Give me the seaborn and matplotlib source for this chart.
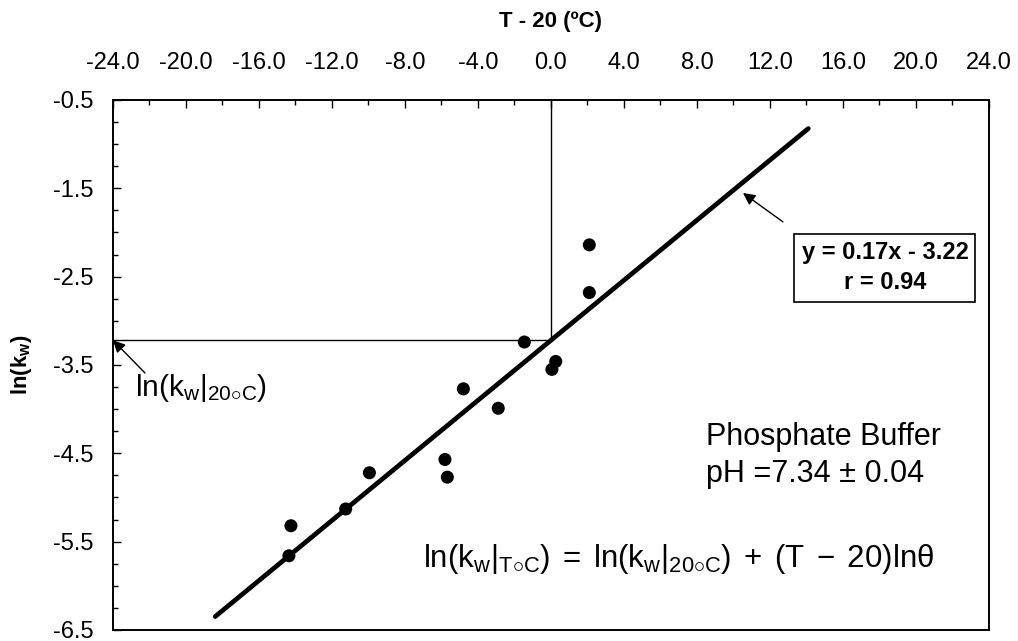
import numpy as np
import pandas as pd
import matplotlib
matplotlib.use("Agg")
import matplotlib.pyplot as plt
from matplotlib.ticker import FixedLocator, MultipleLocator, FormatStrFormatter
import seaborn as sns

# Temperature offset (T - 20, in degC) and ln(k_w) measured in phosphate buffer
t_offset = [-14.36, -14.25, -11.25, -9.95, -5.81, -5.68, -4.80, -2.89, -1.46, 0.26, 0.05, 2.10, 2.10]
ln_kw = [-5.66, -5.32, -5.13, -4.72, -4.57, -4.77, -3.77, -3.99, -3.24, -3.46, -3.55, -2.14, -2.68]

# Linear fit reported on the chart
slope = 0.17
intercept = -3.22
r_value = 0.94
fit_x = [-18.4, 14.1]

x_ticks = [-24, -20, -16, -12, -8, -4, 0, 4, 8, 12, 16, 20, 24]
y_ticks = [-6.5, -5.5, -4.5, -3.5, -2.5, -1.5, -0.5]

sns.set_theme(style="ticks")
plt.rcParams["font.family"] = ["Liberation Sans", "DejaVu Sans"]
plt.rcParams["mathtext.fontset"] = "custom"
plt.rcParams["mathtext.rm"] = "Liberation Sans"
plt.rcParams["mathtext.it"] = "Liberation Sans"
plt.rcParams["mathtext.bf"] = "Liberation Sans:bold"
for key in ["text.color", "axes.labelcolor", "xtick.color", "ytick.color", "axes.edgecolor"]:
    plt.rcParams[key] = "black"

points = pd.DataFrame({"t": t_offset, "lnk": ln_kw})
fit = pd.DataFrame({"t": fit_x, "lnk": [slope * v + intercept for v in fit_x]})

fig = plt.figure(figsize=(10.18, 6.41), dpi=100)
ax = fig.add_axes([0.1110, 0.0172, 0.8605, 0.8268])

sns.lineplot(data=fit, x="t", y="lnk", ax=ax, color="black", lw=3.4,
             solid_capstyle="round", zorder=3)
sns.scatterplot(data=points, x="t", y="lnk", ax=ax, color="black", s=88,
                edgecolor="none", zorder=4)

# Guide lines marking the intercept at T = 20 degC
ax.plot([0, 0], [-0.5, intercept], color="black", lw=1.0, zorder=2)
ax.plot([-24, 0], [intercept, intercept], color="black", lw=1.0, zorder=2)

ax.set_xlim(-24, 24)
ax.set_ylim(-6.5, -0.5)

ax.xaxis.tick_top()
ax.xaxis.set_label_position("top")
ax.xaxis.set_major_locator(FixedLocator(x_ticks))
ax.xaxis.set_minor_locator(MultipleLocator(2))
ax.xaxis.set_major_formatter(FormatStrFormatter("%.1f"))
ax.yaxis.set_major_locator(FixedLocator(y_ticks))
ax.yaxis.set_minor_locator(MultipleLocator(0.25))
ax.yaxis.set_major_formatter(FormatStrFormatter("%.1f"))

ax.tick_params(axis="x", which="both", direction="in", top=True, bottom=False,
               labelsize=17, pad=19)
ax.tick_params(axis="y", which="both", direction="in", left=True, right=False,
               labelsize=17, pad=14)
ax.tick_params(which="major", length=5.5, width=1.0)
ax.tick_params(which="minor", length=3.8, width=1.0)

for spine in ax.spines.values():
    spine.set_visible(True)
    spine.set_linewidth(1.4)
    spine.set_color("black")

ax.set_xlabel("T - 20 (ºC)", fontsize=16, fontweight="bold")
ax.xaxis.set_label_coords(0.5, 1.148)
ax.xaxis.label.set_va("center")
ax.set_ylabel(r"$\mathbf{ln(k_w)}$", fontsize=16)
ax.yaxis.set_label_coords(-0.104, 0.5)
ax.yaxis.label.set_va("center")

arrow = dict(arrowstyle="-|>", lw=1.0, color="black", mutation_scale=18,
             shrinkA=0, shrinkB=0)

ax.annotate("", xy=(-24, intercept), xytext=(-22.25, -3.59), arrowprops=arrow)
ax.text(-22.8, -3.85, r"$\mathrm{ln(k_{w}|_{20{\circ}C})}$", fontsize=21.5,
        ha="left", va="baseline")

ax.annotate("", xy=(10.52, -1.553), xytext=(12.71, -1.88), arrowprops=arrow)
ax.text(18.3, -2.40, f"y = {slope:.2f}x - {abs(intercept):.2f}\nr = {r_value:.2f}",
        fontsize=17, fontweight="bold", ha="center", va="center", linespacing=1.4,
        bbox=dict(boxstyle="square,pad=0.3", fc="white", ec="black", lw=1.2))

ax.text(8.49, -4.407, "Phosphate Buffer", fontsize=22, ha="left", va="baseline")
ax.text(8.49, -4.826, "pH =7.34 ± 0.04", fontsize=22, ha="left", va="baseline")

ax.text(-7.0, -5.79,
        r"$\mathrm{ln(k_{w}|_{T{\circ}C})\;=\;ln(k_{w}|_{20{\circ}C})\;+\;(T\;-\;20)ln\theta}$",
        fontsize=22.5, ha="left", va="baseline")

fig.savefig("out.png", dpi=100)
